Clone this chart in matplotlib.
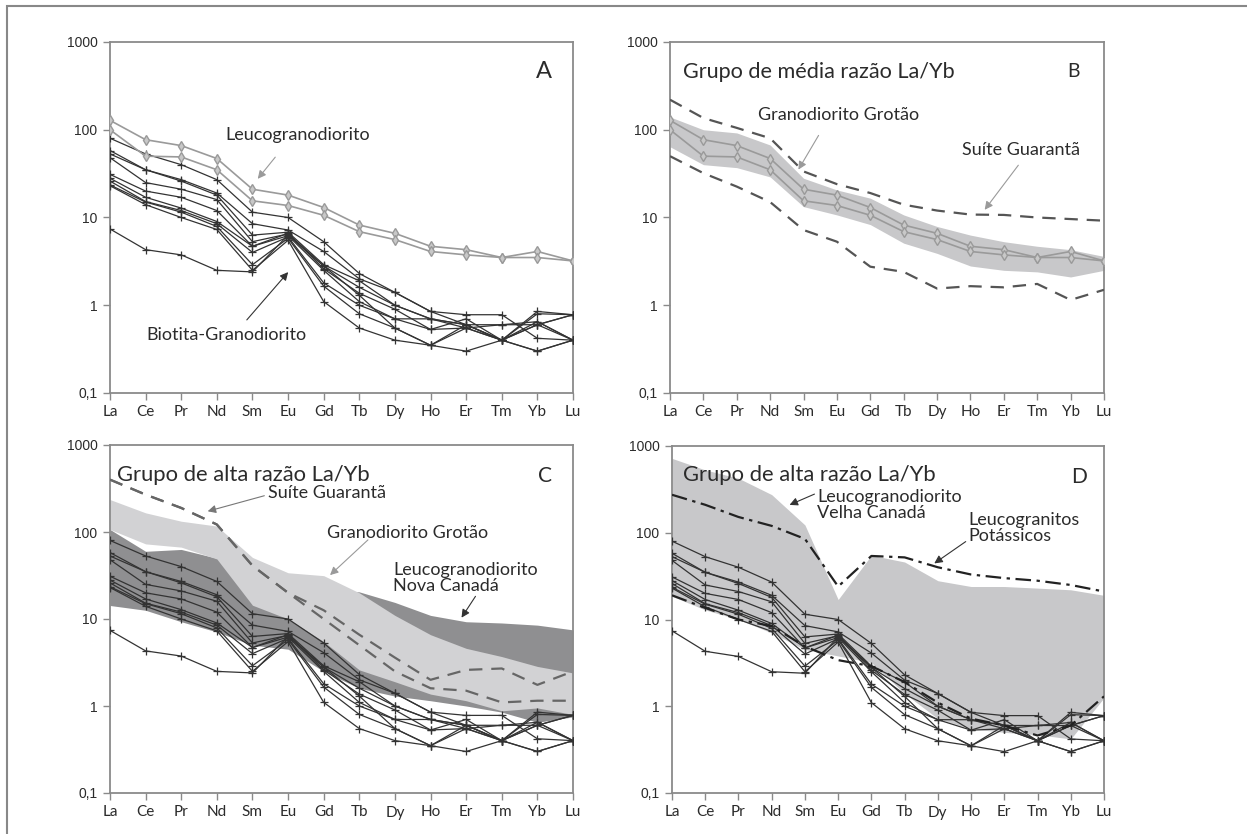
import matplotlib
matplotlib.use('Agg')
import matplotlib.pyplot as plt
from matplotlib.patches import Rectangle
from matplotlib.ticker import FixedLocator, NullLocator

# Elementos terras raras (eixo x)
ree = ['La', 'Ce', 'Pr', 'Nd', 'Sm', 'Eu', 'Gd', 'Tb', 'Dy', 'Ho', 'Er', 'Tm', 'Yb', 'Lu']

# Biotita-granodiorito (amostras normalizadas ao condrito)
bio_1 = [80, 53, 40, 27, 11.5, 10, 5.3, 2.3, 1.4, 0.85, 0.78, 0.78, 0.42, 0.4]
bio_2 = [58, 35, 27, 19, 8.5, 7.2, 4.1, 2.0, 1.4, 0.85, 0.6, 0.4, 0.85, 0.78]
bio_3 = [53, 35, 26, 18, 6.3, 6.8, 2.9, 1.9, 1.0, 0.7, 0.6, 0.4, 0.6, 0.78]
bio_4 = [48, 25, 21, 16, 5.3, 6.5, 2.8, 1.6, 1.0, 0.7, 0.55, 0.4, 0.8, 0.78]
bio_5 = [31, 20, 17, 12, 4.7, 6.6, 2.6, 1.37, 0.9, 0.53, 0.55, 0.6, 0.6, 0.4]
bio_6 = [28, 17, 12.8, 9, 4.7, 6.2, 2.5, 1.1, 0.7, 0.53, 0.7, 0.4, 0.3, 0.4]
bio_7 = [26, 15.2, 12, 8.5, 4.0, 6.0, 1.8, 1.0, 0.7, 0.7, 0.6, 0.6, 0.65, 0.4]
bio_8 = [23.5, 15, 11.5, 7.9, 2.9, 5.8, 1.65, 0.8, 0.55, 0.35, 0.6, 0.4, 0.6, 0.78]
bio_9 = [23, 14, 10, 7.3, 2.5, 5.5, 1.1, 0.55, 0.4, 0.35, 0.3, 0.4, 0.3, 0.4]
bio_10 = [7.4, 4.3, 3.75, 2.5, 2.4, 6.3, 2.8, 1.3, 0.55, 0.35, 0.55, 0.4, 0.65, 0.4]
biotita = [bio_1, bio_2, bio_3, bio_4, bio_5, bio_6, bio_7, bio_8, bio_9, bio_10]

# Leucogranodiorito (Granodiorito Grotão)
leuco_1 = [128, 77, 66, 47, 21, 18, 13, 8.2, 6.6, 4.7, 4.3, 3.5, 4.1, 3.2]
leuco_2 = [100, 50, 49, 35, 15.5, 13.7, 10.6, 6.9, 5.6, 4.1, 3.75, 3.5, 3.5, 3.2]

# Painel B: campo Grotão e Suíte Guarantã
grotao_b_sup = [140, 100, 92, 67, 28, 20.6, 16.6, 10.7, 7.9, 6.3, 5.3, 4.7, 4.3, 3.6]
grotao_b_inf = [64, 40, 37, 29, 13.3, 10.7, 8.3, 5.1, 3.9, 2.8, 2.5, 2.4, 2.1, 2.5]
guaranta_b_sup = [220, 136, 105, 80, 33.5, 24, 19, 14, 12, 10.8, 10.7, 10, 9.6, 9.2]
guaranta_b_inf = [50, 32, 22.5, 15, 7.2, 5.3, 2.75, 2.4, 1.55, 1.65, 1.6, 1.75, 1.15, 1.5]

# Painel C: campos Grotão, Nova Canadá e Suíte Guarantã
grotao_c_sup = [236, 166, 133, 117, 51, 34, 31.5, 20, 11, 6.6, 4.6, 3.7, 2.85, 2.4]
grotao_c_inf = [107, 73, 67, 49, 14.4, 10, 5.5, 2.6, 1.9, 1.37, 1.15, 0.88, 0.95, 0.8]
novacan_sup = [107, 60, 63, 50, 30, 25, 22, 20.5, 15.5, 11, 9.3, 9, 8.5, 7.5]
novacan_inf = [14.3, 12.6, 9.3, 7.1, 5.0, 4.5, 2.5, 1.6, 1.3, 1.15, 1.0, 0.85, 0.65, 0.75]
guaranta_c_1 = [400, 269, 189, 122, 41, 20, 12.6, 6.6, 3.6, 2.0, 2.6, 2.7, 1.75, 2.5]
guaranta_c_2 = [400, 269, 189, 122, 41, 20, 10, 5.0, 2.5, 1.6, 1.5, 1.1, 1.15, 1.15]

# Painel D: Velha Canadá e Leucogranitos Potássicos
velha_sup = [720, 530, 425, 275, 123, 17, 55, 46, 28, 24, 24, 23, 22, 19]
velha_inf = [18.5, 12.9, 10, 7, 4.5, 3.8, 3.2, 1.4, 0.72, 0.55, 0.5, 0.47, 0.42, 1.25]
potass_sup = [274, 210, 152, 120, 85, 24, 54, 52, 40, 33, 30, 28, 25, 21]
potass_inf = [19, 13.6, 10, 8.4, 4.9, 3.4, 2.9, 1.9, 1.1, 0.72, 0.6, 0.46, 0.6, 1.3]

plt.rcParams['font.family'] = ['Lato', 'DejaVu Sans']
x = list(range(len(ree)))
TXT = '#2b2b2b'
SPINE = '#8a8a8a'


def setup(ax):
    ax.set_yscale('log')
    ax.set_ylim(0.1, 1000)
    ax.set_xlim(0, len(ree) - 1)
    ax.yaxis.set_major_locator(FixedLocator([0.1, 1, 10, 100, 1000]))
    ax.yaxis.set_minor_locator(NullLocator())
    ax.set_yticklabels(['0,1', '1', '10', '100', '1000'],
                       family='Liberation Sans', fontsize=10, color=TXT)
    ax.set_xticks(x)
    ax.set_xticklabels(ree, fontsize=11, color=TXT)
    ax.tick_params(length=5, width=1, color=SPINE, pad=4)
    for s in ax.spines.values():
        s.set_color(SPINE)
        s.set_linewidth(1.3)


def biotita_lines(ax):
    for s in biotita:
        ax.plot(x, s, color='#333333', lw=0.9, marker='+', ms=6, mew=0.9, zorder=5)


def arrow(ax, txt_xy, tip_xy, color):
    ax.annotate('', xy=tip_xy, xytext=txt_xy, xycoords='figure pixels',
                textcoords='figure pixels',
                arrowprops=dict(arrowstyle='-|>', color=color, lw=0.8,
                                mutation_scale=12))


fig = plt.figure(figsize=(12.47, 8.34), dpi=100)
H = 834
# moldura externa (sem borda inferior/direita visível)
fig.patches.append(Rectangle((7 / 1247, -0.2), 1.2, 1.2 - 6 / 834, transform=fig.transFigure,
                             fill=False, edgecolor='#888888', lw=1.5))


def fp(px, py):
    return (px, H - py)


axA = fig.add_axes([110 / 1247, 1 - 393 / 834, 463 / 1247, 351 / 834])
axB = fig.add_axes([670 / 1247, 1 - 393 / 834, 434 / 1247, 351 / 834])
axC = fig.add_axes([110 / 1247, 1 - 793 / 834, 463 / 1247, 348 / 834])
axD = fig.add_axes([672 / 1247, 1 - 793 / 834, 432 / 1247, 347 / 834])

# --- A ---
setup(axA)
biotita_lines(axA)
for s in (leuco_1, leuco_2):
    axA.plot(x, s, color='#9a9a9a', lw=1.2, marker='d', ms=5, mfc='#c8c8c8',
             mec='#9a9a9a', zorder=6)
axA.text(0.955, 0.915, 'A', transform=axA.transAxes, fontsize=17, color=TXT,
         ha='right', va='center')
fig.text(225 / 1247, 1 - 135 / 834, 'Leucogranodiorito', fontsize=13, color=TXT,
         va='center')
arrow(axA, fp(277, 155), fp(256, 181), '#9a9a9a')
fig.text(146 / 1247, 1 - 335 / 834, 'Biotita-Granodiorito', fontsize=13, color=TXT,
         va='center')
arrow(axA, fp(245, 322), fp(290, 270), '#333333')

# --- B ---
setup(axB)
axB.fill_between(x, grotao_b_inf, grotao_b_sup, color='#c8c8ca', lw=0, zorder=1)
for s in (leuco_1, leuco_2):
    axB.plot(x, s, color='#9a9a9a', lw=1.2, marker='d', ms=5, mfc='#c8c8c8',
             mec='#9a9a9a', zorder=4)
for s in (guaranta_b_sup, guaranta_b_inf):
    axB.plot(x, s, color='#555555', lw=1.6, ls=(0, (6, 4)), zorder=3)
axB.text(0.03, 0.915, 'Grupo de média razão La/Yb',
         transform=axB.transAxes, fontsize=15.6, color=TXT, va='center')
axB.text(0.945, 0.915, 'B', transform=axB.transAxes, fontsize=14, color=TXT,
         ha='right', va='center')
fig.text(758 / 1247, 1 - 115 / 834, 'Granodiorito Grotão', fontsize=13, color=TXT,
         va='center')
arrow(axB, fp(820, 133), fp(797, 172), '#9a9a9a')
fig.text(962 / 1247, 1 - 150 / 834, 'Suíte Guarantã', fontsize=13, color=TXT,
         va='center')
arrow(axB, fp(1020, 163), fp(983, 212), '#9a9a9a')

# --- C ---
setup(axC)
axC.fill_between(x, novacan_inf, novacan_sup, color='#8f8f91', lw=0, zorder=1)
axC.fill_between(x, grotao_c_inf, grotao_c_sup, color='#d2d2d4', lw=0, zorder=2)
for s in (guaranta_c_1, guaranta_c_2):
    axC.plot(x, s, color='#666666', lw=1.6, ls=(0, (6, 4)), zorder=3)
biotita_lines(axC)
axC.text(0.015, 0.915, 'Grupo de alta razão La/Yb', transform=axC.transAxes,
         fontsize=15.8, color=TXT, va='center')
axC.text(0.955, 0.91, 'C', transform=axC.transAxes, fontsize=15, color=TXT,
         ha='right', va='center')
fig.text(268 / 1247, 1 - 493 / 834, 'Suíte Guarantã', fontsize=13, color=TXT,
         va='center')
arrow(axC, fp(267, 495), fp(205, 512), '#777777')
fig.text(327 / 1247, 1 - 533 / 834, 'Granodiorito Grotão', fontsize=13, color=TXT,
         va='center')
arrow(axC, fp(370, 538), fp(328, 577), '#9a9a9a')
fig.text(393 / 1247, 1 - 578 / 834, 'Leucogranodiorito\nNova Canadá', fontsize=13,
         color=TXT, va='center', linespacing=0.95)
arrow(axC, fp(477, 594), fp(460, 620), '#333333')

# --- D ---
setup(axD)
axD.fill_between(x, velha_inf, velha_sup, color='#c8c8ca', lw=0, zorder=1)
biotita_lines(axD)
for s in (potass_sup, potass_inf):
    axD.plot(x, s, color='#222222', lw=1.6, ls=(0, (7, 2.5, 1.5, 2.5)), zorder=6)
axD.text(0.025, 0.915, 'Grupo de alta razão La/Yb', transform=axD.transAxes,
         fontsize=15.8, color=TXT, va='center')
axD.text(0.96, 0.91, 'D', transform=axD.transAxes, fontsize=15, color=TXT,
         ha='right', va='center')
fig.text(817 / 1247, 1 - 505 / 834, 'Leucogranodiorito\nVelha Canadá', fontsize=13,
         color=TXT, va='center', linespacing=0.95)
arrow(axD, fp(817, 493), fp(787, 506), '#333333')
fig.text(968 / 1247, 1 - 528 / 834, 'Leucogranitos\nPotássicos', fontsize=13,
         color=TXT, va='center', linespacing=0.95)
arrow(axD, fp(968, 540), fp(932, 565), '#333333')

plt.savefig('out.png', dpi=100)
